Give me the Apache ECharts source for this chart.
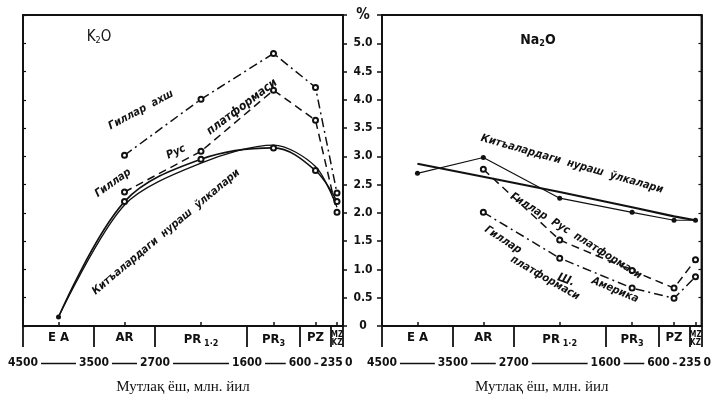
<!DOCTYPE html>
<html><head><meta charset="utf-8">
<script src="https://cdn.jsdelivr.net/npm/echarts@6/dist/echarts.min.js"></script>
<style>html,body{margin:0;padding:0;background:#fff}#c{width:714px;height:404px}</style>
</head><body><div id="c"></div>
<script>
// ---- data ----
const periods = ['EA', 'AR', 'PR12', 'PR3', 'PZ', 'MZKZ'];
const periodEdges = [0, 71, 132, 224, 277, 308, 320];      // schematic (non-linear) time scale
const ageLabels = ['4500', '3500', '2700', '1600', '600', '235', '0'];
const yMax = 5.5, yStep = 0.5;

// K2O, %
const k2oClayUSA  = [null, 3.02, 4.01, 4.82, 4.22, 2.35];
const k2oClayRus  = [null, 2.37, 3.09, 4.17, 3.64, 2.01];
const k2oWeathA   = [0.16, 2.20, 2.95, 3.15, 2.75, 2.20];
const k2oWeathB   = [0.16, 2.14, 2.88, 3.20, 2.82, 2.10];
// Na2O, %
const na2oWeathA  = [2.70, 2.98, 2.26, 2.01, 1.87, 1.87];
const na2oWeathB  = [2.87, 2.64, 2.37, 2.10, 1.94, 1.87];
const na2oClayRus = [null, 2.77, 1.52, 0.98, 0.67, 1.17];
const na2oClayNAm = [null, 2.01, 1.20, 0.67, 0.49, 0.87];

// ---- build ----
const mids = periods.map((p, i) => (periodEdges[i] + periodEdges[i + 1]) / 2);
const pts = arr => arr.map((v, i) => v == null ? null : [mids[i], v]).filter(Boolean);
const xMin = periodEdges[0], xMax = periodEdges[periodEdges.length - 1];
const NARROW = '"Liberation Sans Narrow","DejaVu Sans Condensed","Liberation Sans",sans-serif';
const BLK = '#111';

const periodRich = {
  p: { fontFamily: NARROW, fontWeight: 'bold', fontSize: 13, color: BLK },
  s: { fontFamily: NARROW, fontWeight: 'bold', fontSize: 9, color: BLK, verticalAlign: 'bottom', padding: [8, 0, 0, 0] },
  t: { fontFamily: NARROW, fontWeight: 'bold', fontSize: 8, color: BLK, lineHeight: 8 }
};
function periodFmt(v) {
  const i = mids.findIndex(m => Math.abs(m - v) < 0.01);
  const p = periods[i];
  if (p === 'PR12') return '{p|PR}{s| 1·2}';
  if (p === 'PR3') return '{p|PR}{s|3}';
  if (p === 'MZKZ') return '{t|MZ}\n{t|KZ}';
  if (p === 'EA') return '{p|E A}';
  return '{p|' + p + '}';
}
const ageText = { fontFamily: NARROW, fontWeight: 'bold', fontSize: 12, color: BLK, backgroundColor: '#fff' };
const ageRich = {
  w: Object.assign({ padding: [1, 3] }, ageText),
  n: Object.assign({ padding: [1, 1, 1, 2] }, ageText),
  z: Object.assign({ padding: [1, 0, 1, 2] }, ageText)
};
function ageFmt(v) {
  const i = periodEdges.findIndex(e => Math.abs(e - v) < 0.01);
  const key = i === ageLabels.length - 1 ? 'z' : (i === ageLabels.length - 2 ? 'n' : 'w');
  return '{' + key + '|' + ageLabels[i] + '}';
}

function xAxes(grid) {
  return [
    { gridIndex: grid, type: 'value', min: xMin, max: xMax, position: 'bottom',
      axisLine: { show: true, onZero: false, lineStyle: { color: BLK, width: 1.8 } },
      axisTick: { show: true, inside: true, length: 4, customValues: mids, lineStyle: { color: BLK, width: 1.5 } },
      axisLabel: { show: false }, splitLine: { show: false } },
    { gridIndex: grid, type: 'value', min: xMin, max: xMax, position: 'bottom', offset: 0,
      axisLine: { show: false },
      axisTick: { show: true, inside: false, length: 21, customValues: periodEdges, lineStyle: { color: BLK, width: 1.8 } },
      axisLabel: { show: true, customValues: mids, formatter: periodFmt, margin: 5, rich: periodRich,
        showMinLabel: true, showMaxLabel: true },
      splitLine: { show: false } },
    { gridIndex: grid, type: 'value', min: xMin, max: xMax, position: 'bottom', offset: 37,
      axisLine: { show: true, onZero: false, lineStyle: { color: BLK, width: 1.3 } },
      axisTick: { show: false },
      axisLabel: { show: true, customValues: periodEdges.slice(0, -1), formatter: ageFmt, margin: 0, verticalAlign: 'middle',
        showMinLabel: true, showMaxLabel: true, rich: ageRich },
      splitLine: { show: false },
      name: 'Мутлақ ёш, млн. йил', nameLocation: 'middle', nameGap: 17,
      nameTextStyle: { fontFamily: '"Liberation Serif","DejaVu Serif",serif', fontSize: 15, color: BLK } },
    { gridIndex: grid, type: 'value', min: xMin, max: xMax, position: 'bottom', offset: 37,
      axisLine: { show: false }, axisTick: { show: false },
      axisLabel: { show: true, customValues: periodEdges.slice(-1), formatter: ageFmt, margin: 0, verticalAlign: 'middle',
        align: 'left', showMinLabel: true, showMaxLabel: true, rich: ageRich },
      splitLine: { show: false } }
  ];
}

function yAxis(grid, pos, opts) {
  return Object.assign({ gridIndex: grid, type: 'value', min: 0, max: yMax, interval: yStep, position: pos,
    axisLine: { show: true, onZero: false, lineStyle: { color: BLK, width: 1.8 } },
    axisTick: { show: true, inside: true, length: 3, lineStyle: { color: BLK, width: 1.2 } },
    axisLabel: { show: false }, splitLine: { show: false } }, opts || {});
}

const dashDot = [9, 4, 2, 4], dashed = [8, 5];
function line(data, xi, yi, style, extra) {
  return Object.assign({ type: 'line', xAxisIndex: xi, yAxisIndex: yi, data: pts(data),
    symbol: 'emptyCircle', symbolSize: 5, showSymbol: true, color: BLK, silent: true, animation: false,
    itemStyle: { color: BLK, borderWidth: 1.4 },
    lineStyle: Object.assign({ color: BLK, width: 1.5 }, style) }, extra || {});
}

function note(text, x, y, deg, size) {
  return { type: 'text', x: x, y: y, rotation: deg * Math.PI / 180, silent: true,
    style: { text: text, align: 'center', verticalAlign: 'middle', fill: BLK,
      font: 'bold italic ' + (size || 11) + 'px ' + NARROW } };
}

const option = {
  backgroundColor: '#fff',
  animation: false,
  grid: [
    { left: 23, width: 320, top: 15, height: 311, show: true, borderColor: BLK, borderWidth: 1.8, backgroundColor: 'transparent' },
    { left: 382, width: 321, top: 15, height: 311, show: true, borderColor: BLK, borderWidth: 1.8, backgroundColor: 'transparent' }
  ],
  xAxis: xAxes(0).concat(xAxes(1)),
  yAxis: [
    yAxis(0, 'left'),
    yAxis(0, 'right', { axisTick: { show: true, inside: false, length: 4, lineStyle: { color: BLK, width: 1.5 } } }),
    yAxis(1, 'left', { axisTick: { show: true, inside: false, length: 5, lineStyle: { color: BLK, width: 1.5 } },
      axisLabel: { show: true, align: 'center', margin: 19, fontFamily: NARROW, fontWeight: 'bold', fontSize: 12, color: BLK,
        rich: { pc: { fontFamily: NARROW, fontWeight: 'bold', fontSize: 15, color: BLK } },
        formatter: v => Math.abs(v - yMax) < 1e-6 ? '{pc|%}' : (v === 0 ? '0' : v.toFixed(1)) } }),
    yAxis(1, 'right')
  ],
  series: [
    line(k2oClayUSA, 0, 0, { type: dashDot }),
    line(k2oClayRus, 0, 0, { type: dashed }),
    line(k2oWeathA, 0, 0, { width: 1.6 }, { smooth: 0.35,
      symbol: (v, p) => p.dataIndex === 0 ? 'circle' : 'emptyCircle' }),
    line(k2oWeathB, 0, 0, { width: 1.3 }, { smooth: 0.3, symbol: 'none' }),
    line(na2oWeathA, 4, 2, { width: 1.2 }, { symbol: 'circle', symbolSize: 5 }),
    line(na2oWeathB, 4, 2, { width: 2.2 }, { symbol: 'none' }),
    line(na2oClayRus, 4, 2, { type: dashed }),
    line(na2oClayNAm, 4, 2, { type: dashDot })
  ],
  graphic: [
    { type: 'text', x: 99, y: 37, silent: true, style: { text: '{a|K}{b|2}{a|O}', align: 'center', verticalAlign: 'middle',
      rich: { a: { fontFamily: NARROW, fontSize: 15, fill: BLK }, b: { fontFamily: NARROW, fontSize: 9, fill: BLK, padding: [8, 0, 0, 0] } } } },
    { type: 'text', x: 538, y: 40, silent: true, style: { text: '{a|Na}{b|2}{a|O}', align: 'center', verticalAlign: 'middle',
      rich: { a: { fontFamily: NARROW, fontWeight: 'bold', fontSize: 14, fill: BLK }, b: { fontFamily: NARROW, fontWeight: 'bold', fontSize: 9, fill: BLK, padding: [8, 0, 0, 0] } } } },
    note('Гиллар  ахш', 141, 110, 28),
    note('Гиллар', 113, 183, 35),
    note('Рус', 176, 152, 25),
    note('платформаси', 242, 107, 37, 12),
    note('Китъалардаги  нураш  ўлкалари', 166, 232, 40),
    note('Китъалардаги  нураш  ўлкалари', 572, 164, -16),
    note('Гиллар  Рус  платформаси', 576, 236, -32),
    note('Гиллар', 503, 240, -33),
    note('платформаси', 545, 278, -30),
    note('Ш.', 566, 280, -20, 12),
    note('Америка', 615, 290, -23)
  ]
};
const chart = echarts.init(document.getElementById('c'), null, { renderer: 'canvas' });
chart.setOption(option);
</script></body></html>
